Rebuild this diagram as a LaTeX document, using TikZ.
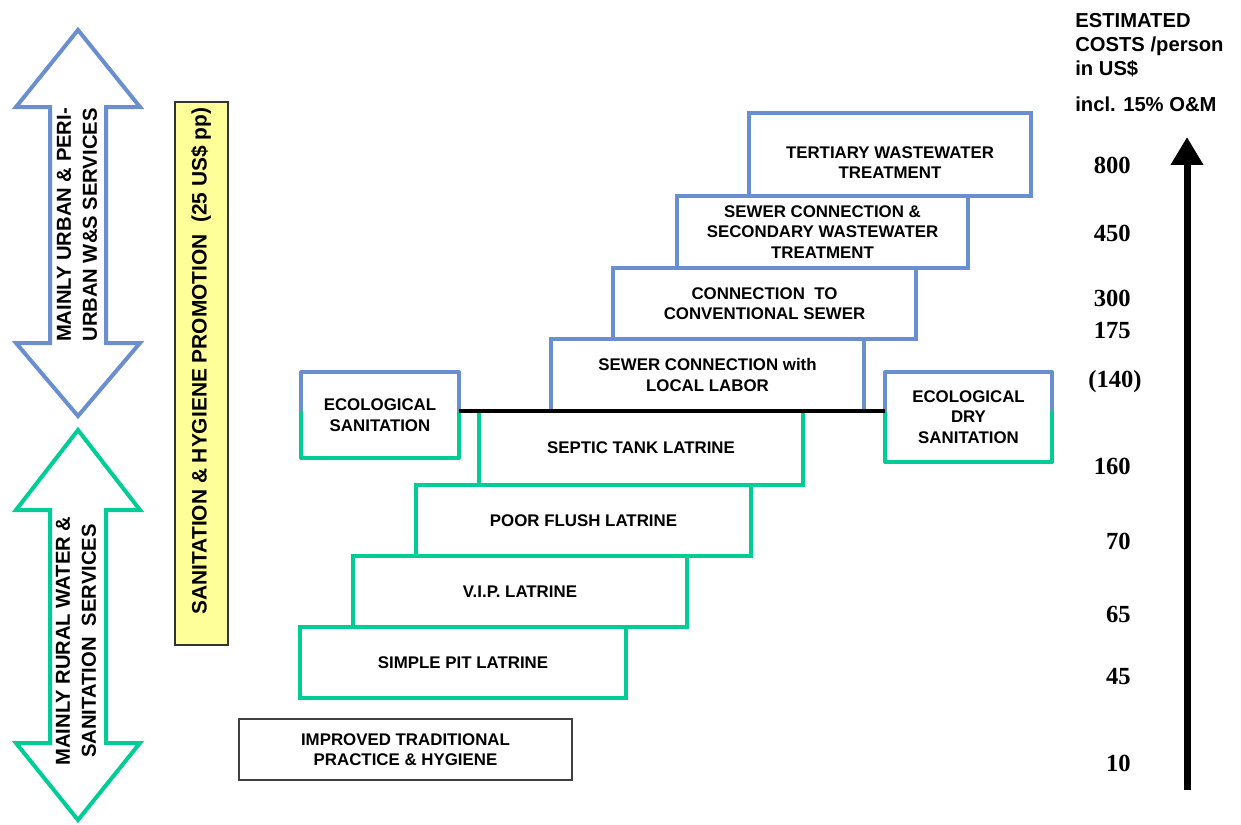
\documentclass[tikz,border=0pt]{standalone}
\usepackage{fontspec}
\setmainfont{Liberation Sans}
\newfontfamily\numfont{Liberation Serif}
\usepackage{tikz}
\usetikzlibrary{positioning}
\usetikzlibrary{arrows.meta,calc}
\definecolor{urbanblue}{RGB}{106,143,208}
\definecolor{ruralgreen}{RGB}{0,204,150}
\definecolor{promoyellow}{RGB}{255,255,153}

\begin{document}
\begin{tikzpicture}
    [x=0.02cm, y=-0.02cm,
     stepb/.style={rectangle, draw=urbanblue, line width=0.08cm, outer sep=0pt, inner sep=1pt, align=center, font=\fontsize{9.6}{11.7}\selectfont\bfseries},
     stepg/.style={stepb, draw=ruralgreen},
     ecos/.style={stepb, draw=none},
     tradbox/.style={stepb, draw=black!75, line width=0.03cm},
     sidearrow/.style={line width=0.08cm, line join=miter, fill=white},
     sidetxt/.style={rotate=90, align=center, inner sep=0pt, font=\fontsize{11.5}{14.8}\selectfont\bfseries},
     cost/.style={anchor=east, inner sep=0pt, font=\fontsize{14}{16}\selectfont\numfont\bfseries},
     hd/.style={inner sep=0pt, align=left, font=\fontsize{11.5}{13.6}\selectfont\bfseries}]

    \useasboundingbox (0,0) rectangle (1241,825);

    % urban / rural double arrows
    \draw [sidearrow, draw=urbanblue] (78,30) -- (140,107) -- (106,107) -- (106,343) -- (140,343) -- (78,416)
        -- (16,343) -- (50,343) -- (50,107) -- (16,107) -- cycle;
    \draw [sidearrow, draw=ruralgreen] (78,430) -- (140,510) -- (106,510) -- (106,743) -- (140,743) -- (78,820)
        -- (16,743) -- (50,743) -- (50,510) -- (16,510) -- cycle;
    \node [sidetxt] (urban) at (77,225) {MAINLY URBAN \& PERI-\\URBAN W\&S SERVICES};
    \node [sidetxt] (rural) at (76,641) {MAINLY RURAL WATER \&\\SANITATION\ \ SERVICES};

    % promotion bar
    \node [rectangle, rotate=90, draw=black!80, line width=0.03cm, fill=promoyellow,
           minimum width=10.86cm, minimum height=1.06cm] (promo) at (201.5,373.5) {};
    \node [sidetxt, font=\fontsize{11.9}{14}\selectfont\bfseries] (promotxt) at (201,361) {SANITATION \& HYGIENE PROMOTION\ \ (25 US\$ pp)};

    % ladder of options
    \node [stepb, minimum width=5.64cm, minimum height=1.66cm, text height=27.5pt] (tert) at (890,154.5) {TERTIARY WASTEWATER\\TREATMENT};
    \node [stepb, minimum width=5.82cm, minimum height=1.44cm] (secd) at (822.5,232) {SEWER CONNECTION \&\\SECONDARY WASTEWATER\\TREATMENT};
    \node [stepb, minimum width=6.06cm, minimum height=1.42cm] (conv) at (764.5,303.5) {CONNECTION\ \ TO\\CONVENTIONAL SEWER};
    \node [stepb, minimum width=6.26cm, minimum height=1.44cm] (local) at (707.5,375) {SEWER CONNECTION with\\LOCAL LABOR};
    \node [stepg, minimum width=6.48cm, minimum height=1.48cm] (septic) at (641,448) {SEPTIC TANK LATRINE};
    \node [stepg, minimum width=6.70cm, minimum height=1.42cm] (flush) at (583.5,520.5) {POOR FLUSH LATRINE};
    \node [stepg, minimum width=6.68cm, minimum height=1.42cm] (vip) at (520,591.5) {V.I.P. LATRINE};
    \node [stepg, minimum width=6.52cm, minimum height=1.42cm] (pit) at (463,662.5) {SIMPLE PIT LATRINE};
    \node [tradbox, minimum width=6.66cm, minimum height=1.22cm] (trad) at (405.5,749.5) {IMPROVED TRADITIONAL\\PRACTICE \& HYGIENE};

    % ecological options, half blue half green
    \node [ecos, minimum width=3.16cm, minimum height=1.72cm] (ecosan) at (380,415) {ECOLOGICAL\\SANITATION};
    \node [ecos, minimum width=3.34cm, minimum height=1.80cm] (ecodry) at (968.5,417) {ECOLOGICAL\\DRY\\SANITATION};
    \draw [urbanblue, line width=0.08cm, line join=round] (ecosan.west |- septic.north) -- (ecosan.north west) -- (ecosan.north east) -- (ecosan.east |- septic.north);
    \draw [ruralgreen, line width=0.08cm, line join=round] (ecosan.west |- septic.north) -- (ecosan.south west) -- (ecosan.south east) -- (ecosan.east |- septic.north);
    \draw [urbanblue, line width=0.08cm, line join=round] (ecodry.west |- septic.north) -- (ecodry.north west) -- (ecodry.north east) -- (ecodry.east |- septic.north);
    \draw [ruralgreen, line width=0.08cm, line join=round] (ecodry.west |- septic.north) -- (ecodry.south west) -- (ecodry.south east) -- (ecodry.east |- septic.north);
    \draw [black, line width=0.08cm] (ecosan.east |- septic.north) -- (ecodry.west |- septic.north);

    % cost scale
    \node [hd, anchor=north west] (hdr) at (1075,13) {ESTIMATED\\COSTS /person\\in US\$};
    \node [hd, anchor=base west] (incl) at (1075,111) {incl. 15\% O\&M};
    \coordinate (cbot) at (1187,790);
    \coordinate (ctop) at (1187,137);
    \draw [line width=0.14cm, -{Triangle[width=0.62cm,length=0.56cm]}] (cbot) -- (ctop);
    \node [cost] (c800) at (1131,165) {800};
    \node [cost] (c450) at (1131,233) {450};
    \node [cost] (c300) at (1131,298) {300};
    \node [cost] (c175) at (1131,330) {175};
    \node [cost] (c140) at (1142,382) {(140)};
    \node [cost] (c160) at (1131,466) {160};
    \node [cost] (c70) at (1131,541) {70};
    \node [cost] (c65) at (1131,614) {65};
    \node [cost] (c45) at (1131,677) {45};
    \node [cost] (c10) at (1131,763) {10};
\end{tikzpicture}
\end{document}
